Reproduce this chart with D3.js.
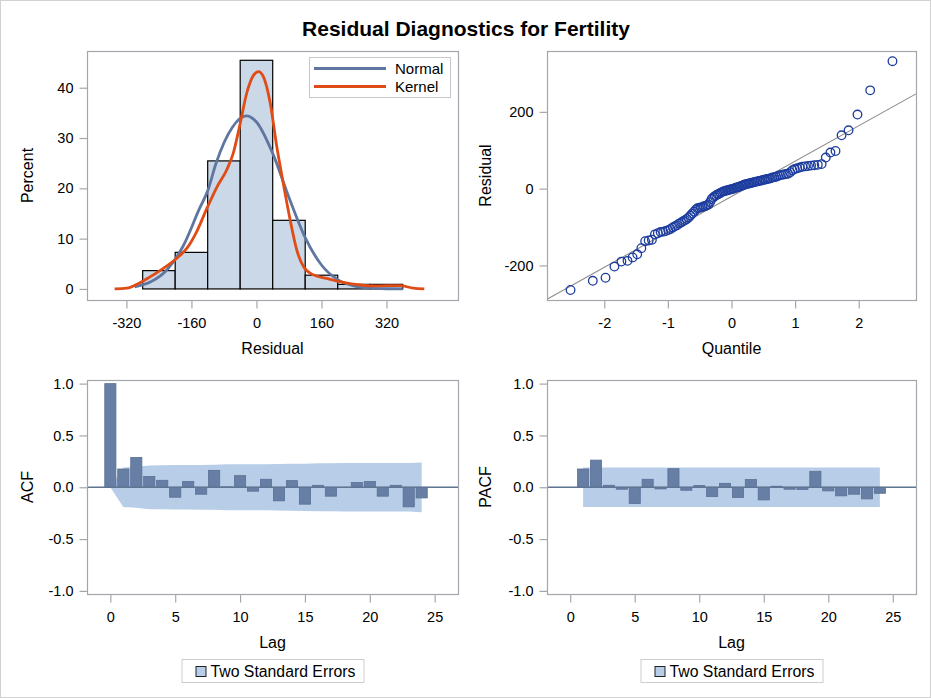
<!DOCTYPE html>
<html><head><meta charset="utf-8">
<script src="https://cdn.jsdelivr.net/npm/d3@7"></script>
<style>
html,body{margin:0;padding:0;background:#fff;}
text{font-family:"Liberation Sans",Arial,sans-serif;fill:#000;}
</style></head>
<body><svg id="c" width="931" height="698"></svg>
<script>
// ---------- DATA ----------
const title = "Residual Diagnostics for Fertility";
// Histogram (bin edges on Residual, percent per bin)
const binEdges = [-280, -200, -120, -40, 40, 120, 200, 280, 360];
const binPercent = [3.64, 7.27, 25.45, 45.45, 13.64, 2.73, 0.91, 0.91];
const histTicks = [-320, -160, 0, 160, 320];
const pctTicks = [0, 10, 20, 30, 40];
// Normal density curve (Residual, Percent)
const normalX = [-300, -260, -220, -180, -140, -120, -100, -60, -25, 0, 40, 80, 120, 160, 200, 240, 280, 320, 360];
const normalY = [0.43, 1.41, 3.82, 8.58, 16.0, 19.5, 24.85, 32.05, 34.4, 33.18, 26.95, 18.19, 10.2, 4.76, 1.84, 0.59, 0.16, 0.04, 0.01];
// Kernel density curve (Residual, Percent)
const kernelX = [-349, -319, -290, -262, -229, -196, -171, -147, -122, -97, -73, -57, -40, -24, -7, 5, 17, 34, 50, 66, 83, 99, 116, 140, 173, 214, 255, 288, 321, 354, 386, 413];
const kernelY = [0, 0.15, 1.1, 2.4, 4.1, 6.1, 8.1, 11.4, 16.0, 20.3, 23.7, 27.0, 32.9, 38.9, 42.5, 43.2, 42.2, 36.9, 28.3, 21.0, 13.7, 7.8, 4.4, 2.8, 2.1, 1.3, 0.8, 0.6, 0.65, 0.65, 0.15, 0];
// Q-Q plot: normal quantiles and sorted residuals
const qqQuantile = [-2.53, -2.18, -1.98, -1.84, -1.73, -1.635, -1.555, -1.482, -1.417, -1.357, -1.302, -1.251, -1.203, -1.157, -1.114, -1.073, -1.033, -0.995, -0.958, -0.923, -0.889, -0.856, -0.823, -0.791, -0.761, -0.731, -0.702, -0.673, -0.645, -0.617, -0.589, -0.563, -0.536, -0.510, -0.484, -0.459, -0.434, -0.409, -0.385, -0.360, -0.336, -0.312, -0.288, -0.265, -0.241, -0.218, -0.195, -0.171, -0.149, -0.126, -0.103, -0.080, -0.057, -0.034, -0.011,
  0.011, 0.034, 0.057, 0.080, 0.103, 0.126, 0.149, 0.171, 0.195, 0.218, 0.241, 0.265, 0.288, 0.312, 0.336, 0.360, 0.385, 0.409, 0.434, 0.459, 0.484, 0.510, 0.536, 0.563, 0.589, 0.617, 0.645, 0.673, 0.702, 0.731, 0.761, 0.791, 0.823, 0.856, 0.889, 0.923, 0.958, 0.995, 1.033, 1.073, 1.114, 1.157, 1.203, 1.251, 1.302, 1.357, 1.417, 1.482, 1.555, 1.635, 1.73, 1.84, 1.98, 2.18, 2.53];
const qqResidual = [-264, -240, -232, -203, -190, -188, -179, -171, -155, -137, -135, -133, -119, -116, -113, -112, -110, -108, -105, -101, -98, -95, -91, -88, -85, -82, -79, -75, -70, -65, -60, -55, -51, -50, -49, -48, -46, -45, -43, -41, -35, -27, -23, -20, -17, -15, -13, -11, -9, -7, -6, -5, -4, -3, -2,
  -1, 0, 2, 3, 4, 5, 7, 8, 10, 11, 12, 13, 14, 15, 16, 17, 18, 19, 20, 21, 22, 23, 24, 25, 26, 27, 29, 30, 31, 33, 35, 36, 37, 38, 39, 43, 48, 51, 53, 55, 57, 58, 59, 60, 61, 62, 64, 81, 94, 98, 139, 152, 193, 256, 332];
const qqLineIntercept = -20.5, qqLineSlope = 92.2;
const qqXTicks = [-2, -1, 0, 1, 2];
const qqYTicks = [-200, 0, 200];
// ACF / PACF
const lags = d3.range(0, 25);
const acfValues = [1.0, 0.176, 0.288, 0.103, 0.067, -0.096, 0.055, -0.067, 0.163, 0.004, 0.112, -0.038, 0.077, -0.131, 0.064, -0.163, 0.019, -0.086, -0.003, 0.045, 0.055, -0.086, 0.019, -0.189, -0.103];
const acfTwoSE = [0, 0.191, 0.197, 0.211, 0.213, 0.214, 0.215, 0.216, 0.217, 0.221, 0.221, 0.223, 0.223, 0.224, 0.227, 0.228, 0.232, 0.232, 0.233, 0.233, 0.234, 0.234, 0.235, 0.235, 0.240];
const pacfLags = d3.range(1, 25);
const pacfValues = [0.176, 0.262, 0.019, -0.019, -0.157, 0.077, -0.016, 0.179, -0.029, 0.016, -0.089, 0.038, -0.099, 0.074, -0.122, 0.010, -0.019, -0.022, 0.154, -0.035, -0.083, -0.067, -0.112, -0.058];
const pacfTwoSE = 0.191;
const corrTicks = [-1.0, -0.5, 0.0, 0.5, 1.0];
const lagTicks = [0, 5, 10, 15, 20, 25];
const legendLabel = "Two Standard Errors";

// ---------- STYLE ----------
const frameCol = "#a3a7ad", tickFont = "14.5px", labFont = "16px";
const svg = d3.select("#c");
svg.append("rect").attr("x",0.5).attr("y",0.5).attr("width",930).attr("height",697)
  .attr("fill","#fff").attr("stroke","#d2d2d2").attr("stroke-width",1);
svg.append("text").attr("x",466).attr("y",36).attr("text-anchor","middle")
  .style("font-size","21px").style("font-weight","bold").text(title);

const fmtHy = v => String(v).replace("\u2212","-");
const fmt1 = v => d3.format(".1f")(v).replace("\u2212","-");

function frame(g, x0, x1, y0, y1){
  g.append("rect").attr("x",x0+0.5).attr("y",y0+0.5).attr("width",x1-x0).attr("height",y1-y0)
    .attr("fill","none").attr("stroke",frameCol).attr("stroke-width",1.2);
}
function styleAxis(a){
  a.select(".domain").remove();
  a.selectAll(".tick line").attr("stroke",frameCol).attr("stroke-width",1.2);
  a.selectAll(".tick text").style("font-size",tickFont).style("font-family","'Liberation Sans',Arial,sans-serif").attr("fill","#000");
}
function axes(x, y, xt, yt, xf, yf, y1, x0, xlab, ylab, ylabX){
  const ax = svg.append("g").attr("transform",`translate(0,${y1+0.5})`)
    .call(d3.axisBottom(x).tickValues(xt).tickFormat(xf).tickSize(8).tickPadding(9));
  styleAxis(ax);
  const ay = svg.append("g").attr("transform",`translate(${x0+0.5},0)`)
    .call(d3.axisLeft(y).tickValues(yt).tickFormat(yf).tickSize(8).tickPadding(6));
  styleAxis(ay);
  const [r0,r1] = x.range();
  svg.append("text").attr("x",(r0+r1)/2).attr("y",y1+54).attr("text-anchor","middle")
    .style("font-size",labFont).text(xlab);
  const [q0,q1] = y.range();
  svg.append("text").attr("transform",`translate(${ylabX},${(q0+q1)/2}) rotate(-90)`)
    .attr("text-anchor","middle").style("font-size",labFont).text(ylab);
}

// ---------- PANEL 1: Histogram ----------
{
  const x0=87,x1=458,y0=51,y1=300;
  const x = d3.scaleLinear([-417,496],[x0,x1]);
  const y = d3.scaleLinear([-2.2,47.3],[y1,y0]);
  const g = svg.append("g");
  g.selectAll("rect.bar").data(binPercent).join("rect").attr("class","bar")
    .attr("x",(d,i)=>x(binEdges[i])).attr("width",(d,i)=>x(binEdges[i+1])-x(binEdges[i]))
    .attr("y",d=>y(d)).attr("height",d=>y(0)-y(d))
    .attr("fill","#cbd8e8").attr("stroke","#000").attr("stroke-width",1.2);
  const line = d3.line().x(d=>x(d[0])).y(d=>y(d[1])).curve(d3.curveMonotoneX);
  g.append("path").datum(normalX.map((v,i)=>[v,normalY[i]])).attr("d",line)
    .attr("fill","none").attr("stroke","#5f77a0").attr("stroke-width",2.8);
  g.append("path").datum(kernelX.map((v,i)=>[v,kernelY[i]])).attr("d",line)
    .attr("fill","none").attr("stroke","#e04c16").attr("stroke-width",2.8);
  frame(g,x0,x1,y0,y1);
  // legend
  const lg = svg.append("g");
  lg.append("rect").attr("x",309.5).attr("y",57.5).attr("width",141).attr("height",40)
    .attr("fill","#fff").attr("stroke","#c8c8c8");
  [["Normal","#5f77a0",68.5],["Kernel","#e04c16",86.5]].forEach(([t,c,yy])=>{
    lg.append("line").attr("x1",314).attr("x2",386).attr("y1",yy).attr("y2",yy)
      .attr("stroke",c).attr("stroke-width",2.8);
    lg.append("text").attr("x",395).attr("y",yy+5).style("font-size","15px").text(t);
  });
  axes(x,y,histTicks,pctTicks,fmtHy,fmtHy,y1,x0,"Residual","Percent",33);
}

// ---------- PANEL 2: Q-Q ----------
{
  const x0=547,x1=916,y0=51,y1=300;
  const x = d3.scaleLinear([-2.9,2.9],[x0,x1]);
  const y = d3.scaleLinear([-290,358.5],[y1,y0]);
  const g = svg.append("g");
  const xs = x.domain();
  g.append("line").attr("x1",x(xs[0])).attr("x2",x(xs[1]))
    .attr("y1",y(qqLineIntercept+qqLineSlope*xs[0])).attr("y2",y(qqLineIntercept+qqLineSlope*xs[1]))
    .attr("stroke","#8c8c8c").attr("stroke-width",1.1);
  g.selectAll("circle").data(qqResidual).join("circle")
    .attr("cx",(d,i)=>x(qqQuantile[i])).attr("cy",d=>y(d)).attr("r",4.3)
    .attr("fill","none").attr("stroke","#1c3c9e").attr("stroke-width",1.3);
  frame(g,x0,x1,y0,y1);
  axes(x,y,qqXTicks,qqYTicks,fmtHy,fmtHy,y1,x0,"Quantile","Residual",491);
}

// ---------- PANELS 3-4: ACF / PACF ----------
function corrPanel(x0,x1,lagArr,vals,bandFn,ylab,ylabX){
  const y0=380,y1=594;
  const x = d3.scaleLinear([-1.8,26.8],[x0,x1]);
  const y = d3.scaleLinear([-1.03,1.035],[y1,y0]);
  const g = svg.append("g");
  const area = d3.area().x(d=>x(d[0])).y0(d=>y(-d[1])).y1(d=>y(d[1]));
  g.append("path").datum(bandFn).attr("d",area).attr("fill","#b8cde7").attr("stroke","none");
  const w = (x(1)-x(0))*0.86;
  g.selectAll("rect.b").data(vals).join("rect").attr("class","b")
    .attr("x",(d,i)=>x(lagArr[i])-w/2).attr("width",w)
    .attr("y",d=>y(Math.max(0,d))).attr("height",d=>Math.abs(y(d)-y(0)))
    .attr("fill","#687fa5").attr("stroke","#5a6f95").attr("stroke-width",0.8);
  g.append("line").attr("x1",x0).attr("x2",x1).attr("y1",y(0)).attr("y2",y(0))
    .attr("stroke","#5f7592").attr("stroke-width",1.6);
  frame(g,x0,x1,y0,y1);
  axes(x,y,lagTicks,corrTicks,fmtHy,fmt1,y1,x0,"Lag",ylab,ylabX);
  // legend
  const cx=(x0+x1)/2, bw=182;
  const lg = svg.append("g");
  lg.append("rect").attr("x",cx-bw/2+0.5).attr("y",659.5).attr("width",bw).attr("height",23)
    .attr("fill","#fff").attr("stroke","#cdcdcd");
  lg.append("rect").attr("x",cx-bw/2+14.5).attr("y",666.5).attr("width",10).attr("height",10)
    .attr("fill","#b8cde7").attr("stroke","#222").attr("stroke-width",1);
  lg.append("text").attr("x",cx-bw/2+29).attr("y",676.5).style("font-size","15.8px").text(legendLabel);
}
corrPanel(87,458,lags,acfValues,lags.map((l,i)=>[l,acfTwoSE[i]]),"ACF",33);
corrPanel(547,916,pacfLags,pacfValues,[[pacfLags[0],pacfTwoSE],[pacfLags[pacfLags.length-1],pacfTwoSE]],"PACF",491);
</script></body></html>
